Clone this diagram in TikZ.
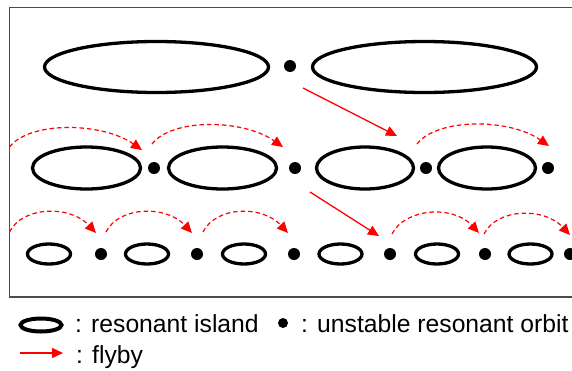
\documentclass[tikz,border=0pt]{standalone}
\usepackage{fontspec}
\setmainfont{Liberation Sans}
\usetikzlibrary{shapes.geometric,arrows.meta}
\begin{document}
\begin{tikzpicture}[x=1pt,y=-1pt,
  island/.style={ellipse, draw, line width=3.3pt, inner sep=0pt, outer sep=0pt},
  uorbit/.style={circle, fill, inner sep=0pt, minimum size=12pt},
  flyby/.style={red, line width=1.3pt, -{Triangle[length=11pt,width=10pt]}},
  hop/.style={red, line width=1.2pt, dash pattern=on 4.5pt off 3pt, -{Triangle[length=11pt,width=10pt]}},
  legtext/.style={anchor=base west, inner sep=0pt, font=\fontsize{24.7}{29}\selectfont}]
\clip (0,0) rectangle (572,370);
\fill[white] (0,0) rectangle (572,370);
% frame
\draw[black!70, line width=1.3pt] (9.5,7.5) rectangle (590,297);

% row 1
\node[island, minimum width=224pt, minimum height=51pt] (i1a) at (156.5,67) {};
\node[uorbit] (u1a) at (290,66) {};
\node[island, minimum width=224pt, minimum height=51pt] (i1b) at (424.5,67) {};

% row 2
\node[island, minimum width=108pt, minimum height=42pt] (i2a) at (86.5,168) {};
\node[uorbit] (u2a) at (154,168) {};
\node[island, minimum width=108pt, minimum height=42pt] (i2b) at (222.5,168) {};
\node[uorbit] (u2b) at (295,168) {};
\node[island, minimum width=97pt, minimum height=42pt] (i2c) at (365,168) {};
\node[uorbit] (u2c) at (426,168) {};
\node[island, minimum width=97pt, minimum height=42pt] (i2d) at (487,168) {};
\node[uorbit] (u2d) at (548,168) {};

% row 3
\node[island, minimum width=43pt, minimum height=20pt] (i3a) at (49,254) {};
\node[uorbit] (u3a) at (101,254) {};
\node[island, minimum width=43pt, minimum height=20pt] (i3b) at (147,254) {};
\node[uorbit] (u3b) at (197,254) {};
\node[island, minimum width=43pt, minimum height=20pt] (i3c) at (244,254) {};
\node[uorbit] (u3c) at (294,254) {};
\node[island, minimum width=43pt, minimum height=20pt] (i3d) at (340.5,254) {};
\node[uorbit] (u3d) at (390,254) {};
\node[island, minimum width=43pt, minimum height=20pt] (i3e) at (437,254) {};
\node[uorbit] (u3e) at (485,254) {};
\node[island, minimum width=43pt, minimum height=20pt] (i3f) at (530.5,254) {};
\node[uorbit] (u3f) at (570,254) {};

% hop arc end points, row 2
\coordinate (h2as) at (9.5,147);  \coordinate (h2ae) at (142,150);
\coordinate (h2bs) at (152,144);  \coordinate (h2be) at (283,147);
\coordinate (h2cs) at (417,144);  \coordinate (h2ce) at (549,146);
% row 3
\coordinate (h3as) at (9.5,232); \coordinate (h3ae) at (96,233);
\coordinate (h3bs) at (106,232); \coordinate (h3be) at (192,233);
\coordinate (h3cs) at (203,232); \coordinate (h3ce) at (288,233);
\coordinate (h3ds) at (392,234); \coordinate (h3de) at (479,233);
\coordinate (h3es) at (484,234); \coordinate (h3ee) at (570,235);

\draw[hop] (h2as) .. controls +(20,-26) and +(-40,-28) .. (h2ae);
\draw[hop] (h2bs) .. controls +(20,-26) and +(-40,-28) .. (h2be);
\draw[hop] (h2cs) .. controls +(20,-26) and +(-40,-28) .. (h2ce);
\draw[hop] (h3as) .. controls +(13,-26) and +(-26,-28) .. (h3ae);
\draw[hop] (h3bs) .. controls +(13,-26) and +(-26,-28) .. (h3be);
\draw[hop] (h3cs) .. controls +(13,-26) and +(-26,-28) .. (h3ce);
\draw[hop] (h3ds) .. controls +(13,-26) and +(-26,-28) .. (h3de);
\draw[hop] (h3es) .. controls +(13,-26) and +(-26,-28) .. (h3ee);

% flyby arrows
\coordinate (f1s) at (303,88);  \coordinate (f1e) at (397,136);
\coordinate (f2s) at (310,192); \coordinate (f2e) at (379,236);
\draw[flyby] (f1s) -- (f1e);
\draw[flyby] (f2s) -- (f2e);

% legend
\node[island, line width=4pt, minimum width=41pt, minimum height=13pt] (legisl) at (41,325) {};
\node[legtext] (legislt) at (75,332) {: resonant island};
\node[uorbit, minimum size=10pt] (legdot) at (283,323) {};
\node[legtext] (legdott) at (301,332) {: unstable resonant orbit};
\coordinate (legas) at (20,353); \coordinate (legae) at (63,353);
\draw[flyby] (legas) -- (legae);
\node[legtext] (legflyt) at (76,363) {: flyby};
\end{tikzpicture}
\end{document}
